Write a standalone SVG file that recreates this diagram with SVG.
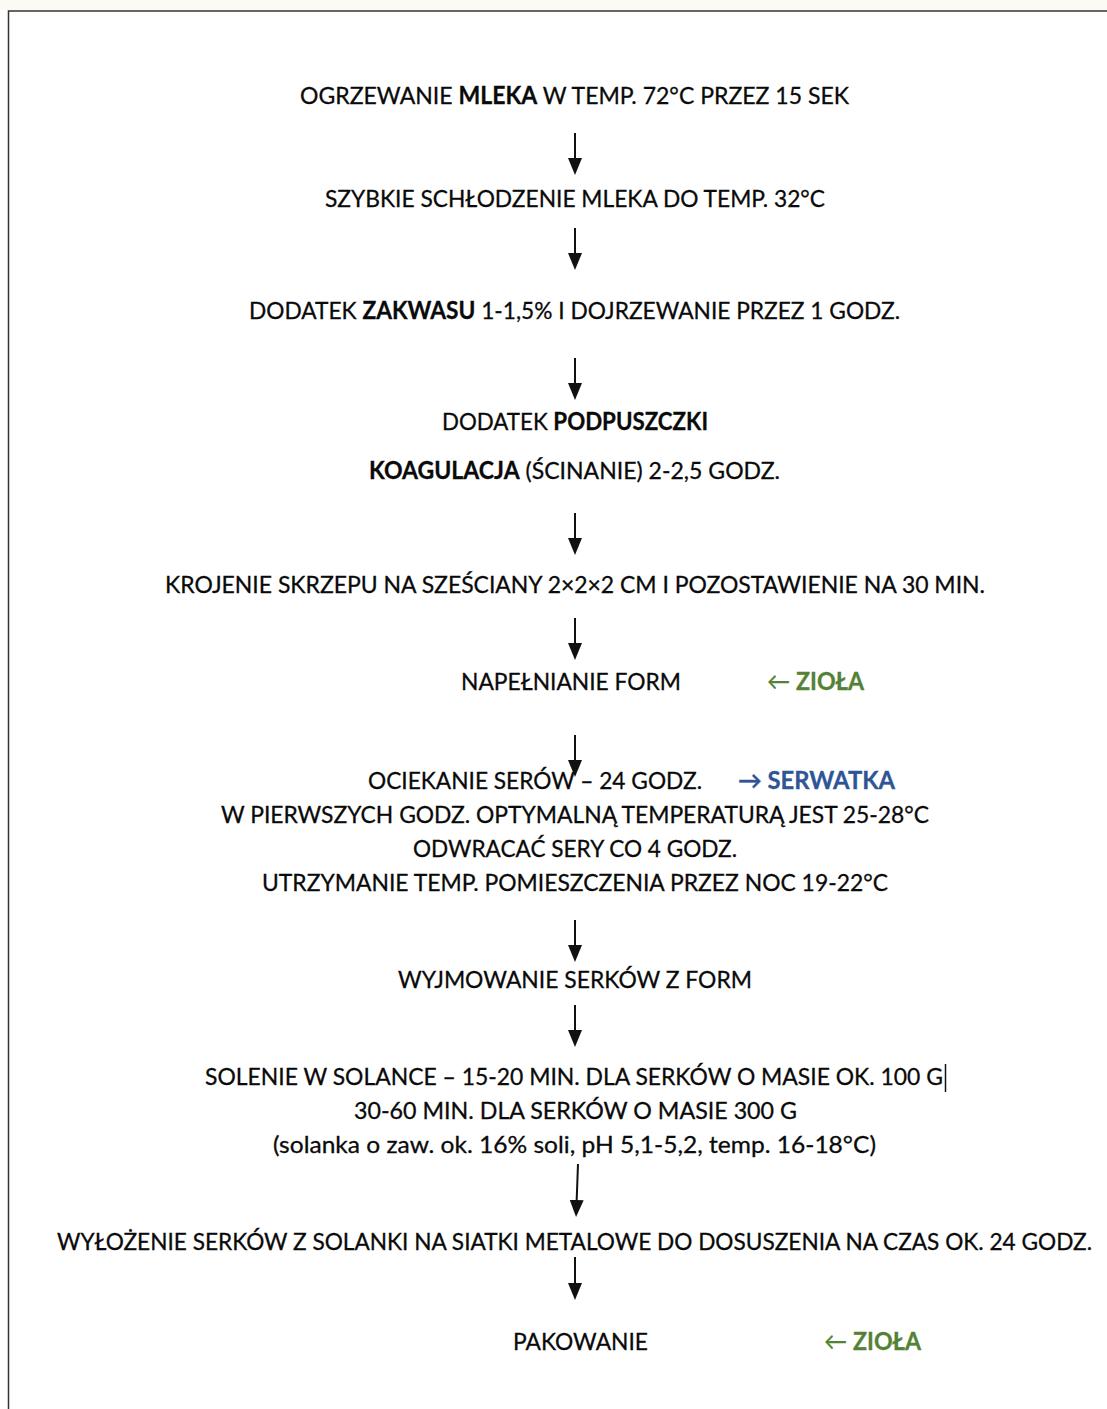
<svg xmlns="http://www.w3.org/2000/svg" width="1107" height="1409" viewBox="0 0 1107 1409">
<style>
.t{font-family:Lato,"Liberation Sans",sans-serif;font-size:24px;fill:#0a0a0a;stroke:#0a0a0a;stroke-width:0.3}
.b{font-weight:bold}
.g{fill:#548235;stroke:#548235}
.bl{fill:#2f5597;stroke:#2f5597}
.c{stroke:#111;stroke-width:2;fill:none}
</style>
<defs>
<marker id="ah" markerUnits="userSpaceOnUse" markerWidth="17" markerHeight="14" refX="13" refY="7" orient="auto" viewBox="0 0 17 14">
<path d="M0,0 L17,7 L0,14 z" fill="#111"/>
</marker>
</defs>
<rect x="0" y="0" width="1107" height="1409" fill="#ffffff"/>
<rect x="0" y="0" width="1107" height="10" fill="#fcfbf3"/>
<path d="M1107,11 H8.5 V1409" stroke="#333" stroke-width="1.5" fill="none"/>
<g id="connectors">
<line class="c" x1="575" y1="133" x2="575" y2="171" marker-end="url(#ah)"/>
<line class="c" x1="575" y1="228" x2="575" y2="266" marker-end="url(#ah)"/>
<line class="c" x1="575" y1="358" x2="575" y2="396" marker-end="url(#ah)"/>
<line class="c" x1="575" y1="513" x2="575" y2="551" marker-end="url(#ah)"/>
<line class="c" x1="575" y1="618" x2="575" y2="656" marker-end="url(#ah)"/>
<line class="c" x1="575" y1="735" x2="575" y2="773" marker-end="url(#ah)"/>
<line class="c" x1="575" y1="920" x2="575" y2="958" marker-end="url(#ah)"/>
<line class="c" x1="575" y1="1005" x2="575" y2="1043" marker-end="url(#ah)"/>
<line class="c" x1="578" y1="1164" x2="576.2" y2="1213" marker-end="url(#ah)"/>
<line class="c" x1="575" y1="1257" x2="575" y2="1296" marker-end="url(#ah)"/>
</g>
<g id="n1"><text class="t" x="300" y="104" textLength="549" lengthAdjust="spacingAndGlyphs">OGRZEWANIE <tspan class="b">MLEKA</tspan> W TEMP. 72°C PRZEZ 15 SEK</text></g>
<g id="n2"><text class="t" x="325" y="207" textLength="500" lengthAdjust="spacingAndGlyphs">SZYBKIE SCHŁODZENIE MLEKA DO TEMP. 32°C</text></g>
<g id="n3"><text class="t" x="249" y="319" textLength="651" lengthAdjust="spacingAndGlyphs">DODATEK <tspan class="b">ZAKWASU</tspan> 1-1,5% I DOJRZEWANIE PRZEZ 1 GODZ.</text></g>
<g id="n4">
<text class="t" x="442" y="430" textLength="266" lengthAdjust="spacingAndGlyphs">DODATEK <tspan class="b">PODPUSZCZKI</tspan></text>
<text class="t" x="369" y="479" textLength="411" lengthAdjust="spacingAndGlyphs"><tspan class="b">KOAGULACJA</tspan> (ŚCINANIE) 2-2,5 GODZ.</text>
</g>
<g id="n5"><text class="t" x="165" y="593" textLength="820" lengthAdjust="spacingAndGlyphs">KROJENIE SKRZEPU NA SZEŚCIANY 2×2×2 CM I POZOSTAWIENIE NA 30 MIN.</text></g>
<g id="n6">
<text class="t" x="461" y="690" textLength="220" lengthAdjust="spacingAndGlyphs">NAPEŁNIANIE FORM</text>
<text class="t g" x="767" y="690" textLength="97" lengthAdjust="spacingAndGlyphs">← <tspan class="b">ZIOŁA</tspan></text>
</g>
<g id="n7">
<text class="t" x="368" y="789" textLength="334" lengthAdjust="spacingAndGlyphs">OCIEKANIE SERÓW – 24 GODZ.</text>
<text class="t bl b" x="738" y="789" textLength="157" lengthAdjust="spacingAndGlyphs">→ SERWATKA</text>
<text class="t" x="221" y="823" textLength="708" lengthAdjust="spacingAndGlyphs">W PIERWSZYCH GODZ. OPTYMALNĄ TEMPERATURĄ JEST 25-28°C</text>
<text class="t" x="413" y="857" textLength="324" lengthAdjust="spacingAndGlyphs">ODWRACAĆ SERY CO 4 GODZ.</text>
<text class="t" x="262" y="891" textLength="626" lengthAdjust="spacingAndGlyphs">UTRZYMANIE TEMP. POMIESZCZENIA PRZEZ NOC 19-22°C</text>
</g>
<g id="n8"><text class="t" x="398" y="988" textLength="354" lengthAdjust="spacingAndGlyphs">WYJMOWANIE SERKÓW Z FORM</text></g>
<g id="n9">
<text class="t" x="205" y="1085" textLength="738" lengthAdjust="spacingAndGlyphs">SOLENIE W SOLANCE – 15-20 MIN. DLA SERKÓW O MASIE OK. 100 G</text>
<line x1="945.5" y1="1064" x2="945.5" y2="1092" stroke="#111" stroke-width="1.5"/>
<text class="t" x="354" y="1119" textLength="443" lengthAdjust="spacingAndGlyphs">30-60 MIN. DLA SERKÓW O MASIE 300 G</text>
<text class="t" x="273" y="1153" textLength="603" lengthAdjust="spacingAndGlyphs">(solanka o zaw. ok. 16% soli, pH 5,1-5,2, temp. 16-18°C)</text>
</g>
<g id="n10"><text class="t" x="57" y="1250" style="font-size:23px" textLength="1035" lengthAdjust="spacingAndGlyphs">WYŁOŻENIE SERKÓW Z SOLANKI NA SIATKI METALOWE DO DOSUSZENIA NA CZAS OK. 24 GODZ.</text></g>
<g id="n11">
<text class="t" x="513" y="1350" textLength="135" lengthAdjust="spacingAndGlyphs">PAKOWANIE</text>
<text class="t g" x="824" y="1350" textLength="97" lengthAdjust="spacingAndGlyphs">← <tspan class="b">ZIOŁA</tspan></text>
</g>
</svg>
